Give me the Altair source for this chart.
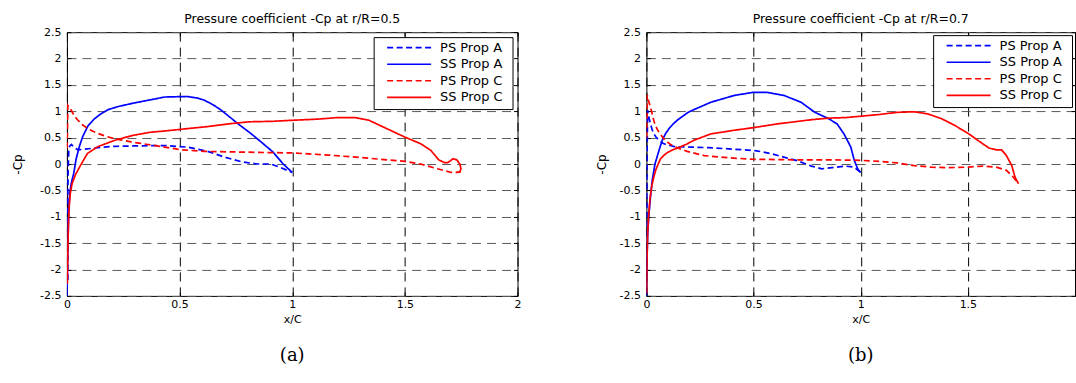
import altair as alt
import pandas as pd

SERIES = ["PS Prop A", "SS Prop A", "PS Prop C", "SS Prop C"]
COLORS = ["#0000ff", "#0000ff", "#ff0000", "#ff0000"]
DASHES = [[6, 3.5], [1, 0], [6, 3.5], [1, 0]]
X_TICKS = [0, 0.5, 1, 1.5, 2]
Y_TICKS = [-2.5, -2, -1.5, -1, -0.5, 0, 0.5, 1, 1.5, 2, 2.5]
TITLES = ["Pressure coefficient -Cp at r/R=0.5", "Pressure coefficient -Cp at r/R=0.7"]
CAPTIONS = ["(a)", "(b)"]

# ---- panel (a) r/R = 0.5 ----
a_ps_A_x = [0.004, 0.003, 0.005, 0.008, 0.012, 0.02, 0.03, 0.049, 0.076, 0.137, 0.21, 0.32, 0.433, 0.536, 0.625, 0.70, 0.777, 0.846, 0.905, 0.95, 1.0]
a_ps_A_y = [-2.2, -1.2, -0.2, 0.25, 0.34, 0.37, 0.32, 0.27, 0.28, 0.31, 0.335, 0.345, 0.35, 0.32, 0.24, 0.13, 0.04, 0.0, 0.0, -0.07, -0.16]
a_ss_A_x = [0.0, 0.002, 0.005, 0.008, 0.012, 0.02, 0.03, 0.041, 0.055, 0.07, 0.093, 0.12, 0.15, 0.182, 0.228, 0.29, 0.35, 0.434, 0.533, 0.58, 0.61, 0.65, 0.685, 0.72, 0.76, 0.81, 0.853, 0.914, 0.96, 1.0]
a_ss_A_y = [-2.5, -2.0, -1.4, -0.9, -0.56, -0.35, -0.18, 0.1, 0.33, 0.52, 0.72, 0.85, 0.95, 1.03, 1.09, 1.15, 1.2, 1.27, 1.28, 1.25, 1.21, 1.12, 1.02, 0.9, 0.76, 0.6, 0.45, 0.23, 0.0, -0.16]
a_ps_C_x = [0.001, 0.004, 0.019, 0.035, 0.049, 0.07, 0.093, 0.115, 0.137, 0.17, 0.21, 0.25, 0.285, 0.32, 0.359, 0.4, 0.433, 0.507, 0.61, 0.728, 0.85, 1.0, 1.16, 1.31, 1.42, 1.5, 1.57, 1.645, 1.706, 1.73, 1.749]
a_ps_C_y = [0.3, 1.11, 1.02, 0.9, 0.83, 0.74, 0.67, 0.62, 0.58, 0.53, 0.48, 0.45, 0.42, 0.395, 0.37, 0.345, 0.32, 0.27, 0.24, 0.23, 0.22, 0.21, 0.17, 0.12, 0.08, 0.05, 0.0, -0.09, -0.16, -0.16, -0.14]
a_ss_C_x = [0.002, 0.004, 0.007, 0.01, 0.015, 0.023, 0.038, 0.061, 0.091, 0.137, 0.213, 0.29, 0.366, 0.442, 0.533, 0.625, 0.716, 0.807, 0.914, 1.005, 1.11, 1.2, 1.28, 1.34, 1.42, 1.5, 1.57, 1.615, 1.65, 1.676, 1.69, 1.714, 1.73, 1.744, 1.749, 1.744, 1.73]
a_ss_C_y = [-2.27, -1.6, -1.1, -0.81, -0.55, -0.37, -0.2, -0.02, 0.2, 0.33, 0.45, 0.54, 0.6, 0.63, 0.67, 0.71, 0.76, 0.8, 0.81, 0.83, 0.85, 0.88, 0.88, 0.83, 0.67, 0.51, 0.385, 0.26, 0.08, 0.025, 0.025, 0.1, 0.08, 0.0, -0.09, -0.15, -0.16]

# ---- panel (b) r/R = 0.7 ----
b_ps_A_x = [0.003, 0.002, 0.004, 0.006, 0.012, 0.019, 0.027, 0.035, 0.047, 0.059, 0.075, 0.091, 0.131, 0.211, 0.291, 0.371, 0.45, 0.514, 0.578, 0.642, 0.706, 0.77, 0.818, 0.866, 0.93, 0.97, 1.0]
b_ps_A_y = [-1.38, -0.5, 0.5, 1.02, 0.88, 0.76, 0.65, 0.57, 0.5, 0.45, 0.4, 0.37, 0.33, 0.32, 0.31, 0.29, 0.27, 0.25, 0.2, 0.13, 0.06, -0.04, -0.09, -0.07, -0.04, -0.06, -0.16]
b_ss_A_x = [0.0, 0.002, 0.006, 0.012, 0.019, 0.027, 0.035, 0.04, 0.051, 0.062, 0.075, 0.09, 0.107, 0.125, 0.147, 0.195, 0.221, 0.3, 0.41, 0.5, 0.56, 0.642, 0.722, 0.786, 0.85, 0.89, 0.922, 0.954, 0.97, 0.986, 1.0]
b_ss_A_y = [-2.5, -1.9, -1.32, -0.95, -0.62, -0.32, -0.12, 0.0, 0.15, 0.3, 0.46, 0.58, 0.68, 0.76, 0.84, 0.98, 1.03, 1.17, 1.3, 1.36, 1.36, 1.30, 1.17, 0.98, 0.86, 0.76, 0.57, 0.32, 0.07, -0.09, -0.16]
b_ps_C_x = [0.001, 0.004, 0.01, 0.02, 0.036, 0.05, 0.066, 0.085, 0.1, 0.113, 0.15, 0.19, 0.27, 0.376, 0.5, 0.69, 0.85, 1.0, 1.09, 1.17, 1.25, 1.33, 1.41, 1.49, 1.57, 1.633, 1.68, 1.712, 1.736]
b_ps_C_y = [0.5, 1.31, 1.2, 1.06, 0.8, 0.66, 0.56, 0.46, 0.41, 0.37, 0.3, 0.24, 0.16, 0.12, 0.09, 0.08, 0.08, 0.07, 0.05, 0.02, -0.03, -0.06, -0.07, -0.06, -0.04, -0.06, -0.12, -0.25, -0.37]
b_ss_C_x = [0.001, 0.003, 0.006, 0.011, 0.017, 0.024, 0.033, 0.043, 0.055, 0.066, 0.083, 0.099, 0.123, 0.144, 0.19, 0.221, 0.3, 0.41, 0.5, 0.61, 0.69, 0.77, 0.85, 0.93, 1.01, 1.09, 1.17, 1.25, 1.313, 1.377, 1.44, 1.505, 1.569, 1.6, 1.633, 1.657, 1.68, 1.705, 1.72, 1.736]
b_ss_C_y = [-2.45, -1.8, -1.3, -0.94, -0.65, -0.44, -0.27, -0.12, 0.0, 0.1, 0.17, 0.22, 0.27, 0.3, 0.38, 0.45, 0.57, 0.64, 0.69, 0.76, 0.8, 0.84, 0.87, 0.88, 0.91, 0.94, 0.98, 0.99, 0.95, 0.86, 0.73, 0.57, 0.385, 0.3, 0.27, 0.27, 0.16, -0.03, -0.25, -0.37]

PANELS = [
    [(a_ps_A_x, a_ps_A_y), (a_ss_A_x, a_ss_A_y), (a_ps_C_x, a_ps_C_y), (a_ss_C_x, a_ss_C_y)],
    [(b_ps_A_x, b_ps_A_y), (b_ss_A_x, b_ss_A_y), (b_ps_C_x, b_ps_C_y), (b_ss_C_x, b_ss_C_y)],
]

FONT = "DejaVu Sans"
H = 264


def make_df(panel):
    rows = []
    for name, (xs, ys) in zip(SERIES, panel):
        for i, (xv, yv) in enumerate(zip(xs, ys)):
            rows.append({"series": name, "x": xv, "y": yv, "idx": i})
    return pd.DataFrame(rows)


def build_panel(k, width, ytitle_x, legend_offset, x_label_expr):
    df = make_df(PANELS[k])
    xscale = alt.Scale(domain=[0, 2], nice=False, zero=False)
    yscale = alt.Scale(domain=[-2.5, 2.5], nice=False, zero=False)
    legend = alt.Legend(
        orient="top-right", offset=legend_offset, padding=4,
        title="\u2003", titleOrient="right", titlePadding=6, titleFontSize=12.5,
        titleFont=FONT,
        strokeColor="black", fillColor="white",
        labelFont=FONT, labelFontSize=13, labelColor="black", labelLimit=300,
        symbolType="M-4.4,0H4.4", symbolSize=100, symbolStrokeWidth=1.6,
        symbolOffset=25, labelOffset=24.5, rowPadding=2.6,
    )
    lines = alt.Chart(df).mark_line(strokeWidth=1.7, clip=True).encode(
        x=alt.X("x:Q", scale=xscale, axis=alt.Axis(
            orient="bottom",
            values=X_TICKS, grid=True, gridColor="#000000", gridDash=[9, 6], gridWidth=1,
            domain=False, ticks=True, tickSize=4, tickColor="black", offset=-4,
            labelPadding=3, labelFont=FONT, labelFontSize=11, labelColor="black",
            labelFlush=False, labelOverlap=False, labelExpr=x_label_expr,
            title="x/C", titleFont=FONT, titleFontSize=11, titleFontWeight="normal",
            titleColor="black", titlePadding=4)),
        y=alt.Y("y:Q", scale=yscale, axis=alt.Axis(
            orient="left",
            values=Y_TICKS, grid=True, gridColor="#5a5a5a", gridDash=[9, 6], gridWidth=1,
            domain=False, ticks=True, tickSize=4, tickColor="black", offset=-4,
            labelPadding=6, labelFont=FONT, labelFontSize=11, labelColor="black",
            labelFlush=False, labelOverlap=False, labelExpr="datum.value + ''",
            title="-Cp", titleFont=FONT, titleFontSize=12, titleFontWeight="normal",
            titleColor="black", titleX=ytitle_x, titleY=H / 2, titleAngle=270,
            titleAlign="center", titleBaseline="middle")),
        color=alt.Color("series:N", scale=alt.Scale(domain=SERIES, range=COLORS), legend=legend),
        strokeDash=alt.StrokeDash("series:N", scale=alt.Scale(domain=SERIES, range=DASHES), legend=legend),
        order=alt.Order("idx:Q"),
    )
    ticks = alt.Chart(df).mark_line(strokeOpacity=0).encode(
        x=alt.X("x:Q", scale=xscale, axis=alt.Axis(
            orient="top", values=X_TICKS, labels=False, domain=False, grid=False,
            ticks=True, tickSize=4, tickColor="black", offset=-4, title=None)),
        y=alt.Y("y:Q", scale=yscale, axis=alt.Axis(
            orient="right", values=Y_TICKS, labels=False, domain=False, grid=False,
            ticks=True, tickSize=4, tickColor="black", offset=-4, title=None)),
        order=alt.Order("idx:Q"),
    )
    cap = alt.Chart(alt.Data(values=[{"caption": CAPTIONS[k]}])).mark_text(
        font="DejaVu Serif", fontSize=18, align="center", baseline="middle", color="black"
    ).encode(x=alt.value(width / 2), y=alt.value(324), text="caption:N")
    return alt.layer(lines, ticks, cap).properties(
        width=width, height=H,
        title=alt.TitleParams(
            TITLES[k], font=FONT, fontSize=12.5, fontWeight="normal", color="black",
            anchor="middle", frame="group", baseline="bottom", offset=-12),
    )


left = build_panel(0, 451, -53, 5, "datum.value + ''")
right = build_panel(1, 429, -49, 3, "datum.value == 2 ? '' : datum.value + ''")

chart = alt.hconcat(left, right, spacing=129, bounds="flush").resolve_scale(
    color="independent", strokeDash="independent"
).properties(
    padding={"left": 11, "top": 12, "right": 0, "bottom": 2},
    background="white",
).configure_view(stroke="black", strokeWidth=1)

chart.save("out.html", embed_options={"renderer": "svg", "actions": False})
